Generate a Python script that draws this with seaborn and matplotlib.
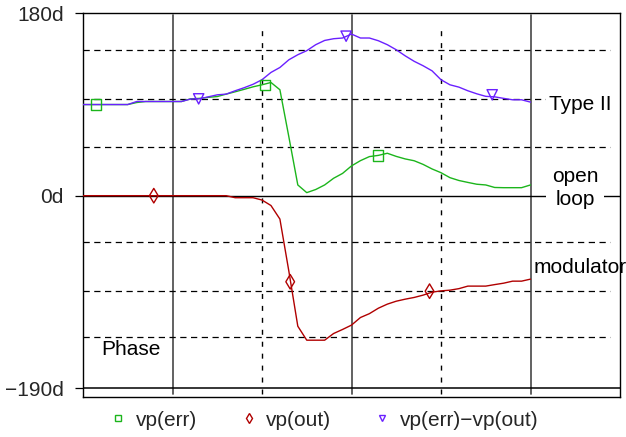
import numpy as np
import pandas as pd
import matplotlib
matplotlib.use("Agg")
import matplotlib.pyplot as plt
import seaborn as sns
from matplotlib.lines import Line2D
from matplotlib.ticker import NullLocator

sns.set_theme(style="white")
plt.rcParams['font.family'] = ['Liberation Sans', 'DejaVu Sans']
plt.rcParams['axes.unicode_minus'] = True

# AC sweep, 20 points / decade
freq = [316, 355, 398, 447, 501, 562, 631, 708, 794, 891,
        1000, 1122, 1259, 1413, 1585, 1778, 1995, 2239, 2512, 2818,
        3162, 3548, 3981, 4467, 5012, 5623, 6310, 7079, 7943, 8913,
        10000, 11220, 12590, 14130, 15850, 17780, 19950, 22390, 25120, 28180,
        31620, 35480, 39810, 44670, 50120, 56230, 63100, 70790, 79430, 89130,
        100000]

# phase in degrees
vp_err = [90, 90, 90, 90, 90, 90, 92, 93, 93, 93,
          93, 93, 95.6, 96.1, 97.1, 97.9, 100.3, 102.6, 105, 107.5,
          109.5, 111.8, 104.6, 58.1, 10.6, 3, 6.1, 10.6, 17.2, 22,
          29.4, 34.6, 38.6, 39.8, 41.9, 38.8, 36.3, 34.5, 30.9, 26.4,
          22.7, 17.8, 15, 13.1, 11.3, 10.6, 8.1, 7.9, 7.9, 7.9,
          10.6]
vp_out = [0, 0, 0, 0, 0, 0, 0, 0, 0, 0,
          0, 0, 0, 0, 0, 0, 0, -2, -2, -2,
          -4.3, -9.7, -23.1, -74.6, -128.9, -142.7, -142.7, -142.7, -136.1, -132.1,
          -127.8, -120.3, -116.5, -111.1, -107.1, -104.2, -102.2, -100.5, -98.2, -95.3,
          -94, -93.3, -91.8, -89.3, -89.3, -89.3, -87.8, -86.4, -84.4, -84.4,
          -82.4]
vp_diff = [90, 90, 90, 90, 90, 90, 93, 93, 93, 93,
           93, 93, 95.4, 95.6, 97.6, 99.6, 100.3, 103.6, 106.6, 110,
           114.5, 121.7, 126.6, 134.2, 139.2, 143.2, 149.1, 153.3, 155, 155.7,
           159.6, 155.7, 155.7, 153, 149.1, 144.1, 138.1, 132.7, 128.3, 123.3,
           114.5, 109.5, 107.2, 103.6, 100.6, 98.1, 97.6, 96.1, 94.7, 94.7,
           92.4]

labels = ['vp(err)', 'vp(out)', 'vp(err)\u2212vp(out)']
colors = ['#1cb51c', '#b00000', '#6a20ff']
marker_styles = ['s', 'd', 'v']

# marker positions along each trace
mk_freq = [[375, 3296, 14030], [786, 4545, 27290], [1400, 9330, 61090]]
mk_phase = [[90, 109.5, 39.6], [0, -85, -94.3], [95.6, 157.5, 99.6]]

df = pd.DataFrame({
    'freq': freq * 3,
    'phase': vp_err + vp_out + vp_diff,
    'trace': [labels[0]] * len(freq) + [labels[1]] * len(freq) + [labels[2]] * len(freq),
})

fig = plt.figure(figsize=(6.26, 4.37), dpi=100)
ax = fig.add_axes([83 / 626, 1 - 397 / 437, 537 / 626, 384 / 437])
ax.set_xscale('log')
ax.set_xlim(316.2, 316228)
ax.set_ylim(-198.8, 180.4)

# grid
for f in [1000, 10000, 100000]:
    ax.axvline(f, ymin=0.007, ymax=0.994, color='#555555', lw=1.3, zorder=1)
for f in [3162, 31623]:
    ax.axvline(f, ymin=0.007, ymax=0.97, color='black', lw=1.0,
               ls=(0, (3.6, 5)), zorder=1)
for g in [144, 95.5, 48.5, -46, -94, -140]:
    ax.axhline(g, xmin=0, xmax=0.981, color='black', lw=0.9,
               ls=(0, (5, 3.6)), zorder=1)
ax.axhline(0, color='black', lw=1.0, zorder=1)
ax.axhline(-190, color='black', lw=1.1, zorder=1)

sns.lineplot(data=df, x='freq', y='phase', hue='trace', palette=colors,
             hue_order=labels, sort=False, estimator=None, legend=False,
             linewidth=1.0, ax=ax, zorder=3)

for i in range(3):
    sns.scatterplot(x=mk_freq[i], y=mk_phase[i], marker=marker_styles[i],
                    s=55, color=colors[i], facecolors='none',
                    edgecolor=colors[i], linewidth=1.0, ax=ax, zorder=4)

ax.set_xlabel('')
ax.set_ylabel('')
ax.xaxis.set_minor_locator(NullLocator())
ax.set_xticks([])
ax.set_yticks([180, 0, -190])
ax.set_yticklabels(['180d', '0d', '\u2212190d'])
ax.tick_params(axis='y', which='both', left=True, length=5.8, width=0.9,
               pad=7.9, labelsize=15, direction='out', color='black')
for s in ax.spines.values():
    s.set_color('black')
    s.set_linewidth(1.0)

tk = dict(fontsize=15, color='black')
ax.text((549 - 83) / 537, (397 - 110) / 384, 'Type II', transform=ax.transAxes,
        ha='left', va='baseline', zorder=5,
        bbox=dict(facecolor='white', edgecolor='none', pad=2), **tk)
ax.text((575 - 83) / 537, (397 - 205) / 384, 'loop', transform=ax.transAxes,
        ha='center', va='baseline', clip_on=False, zorder=5,
        bbox=dict(facecolor='white', edgecolor='none', pad=7), **tk)
ax.text((575 - 83) / 537, (397 - 182) / 384, 'open', transform=ax.transAxes,
        ha='center', va='baseline', zorder=6, **tk)
ax.text((534 - 83) / 537, (397 - 273) / 384, 'modulator', transform=ax.transAxes,
        ha='left', va='baseline', clip_on=False, zorder=5, **tk)
ax.text((101 - 83) / 537, (397 - 355) / 384, 'Phase', transform=ax.transAxes,
        ha='left', va='baseline', zorder=5, **tk)

handles = [Line2D([], [], ls='none', marker=marker_styles[i], markersize=5,
                  markerfacecolor='none', markeredgecolor=colors[i],
                  markeredgewidth=1.0) for i in range(3)]
fig.legend(handles, labels, loc='center', bbox_to_anchor=(326 / 626, 1 - 420 / 437),
           ncol=3, frameon=False, fontsize=15, handlelength=0.5,
           handletextpad=0.6, columnspacing=2.2, borderpad=0, borderaxespad=0)

fig.savefig('out.png', dpi=100)
